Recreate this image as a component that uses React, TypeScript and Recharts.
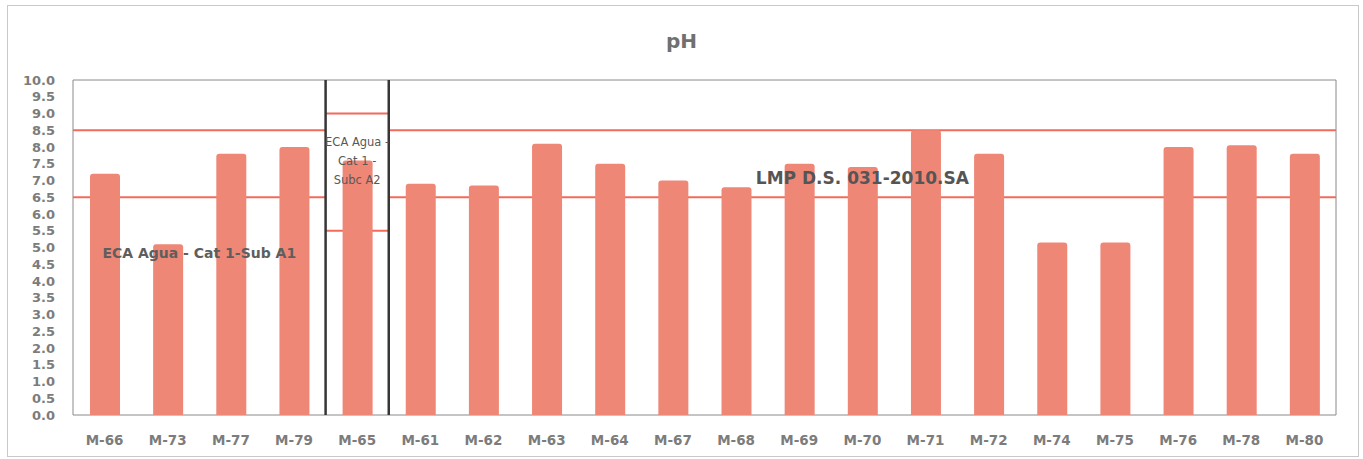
import {
  Bar,
  BarChart,
  ReferenceArea,
  ReferenceDot,
  ReferenceLine,
  XAxis,
  YAxis,
} from 'recharts';

const stations = [
  'M-66', 'M-73', 'M-77', 'M-79', 'M-65', 'M-61', 'M-62', 'M-63', 'M-64', 'M-67',
  'M-68', 'M-69', 'M-70', 'M-71', 'M-72', 'M-74', 'M-75', 'M-76', 'M-78', 'M-80',
];
const phValues = [
  7.2, 5.1, 7.8, 8.0, 7.6, 6.9, 6.85, 8.1, 7.5, 7.0,
  6.8, 7.5, 7.4, 8.5, 7.8, 5.15, 5.15, 8.0, 8.05, 7.8,
];
const yTicks = [0, 0.5, 1, 1.5, 2, 2.5, 3, 3.5, 4, 4.5, 5, 5.5, 6, 6.5, 7, 7.5, 8, 8.5, 9, 9.5, 10];

// norm sections: first and last station of each block, with its pH limits
const sectionFirst = ['M-66', 'M-65', 'M-61'];
const sectionLast = ['M-79', 'M-65', 'M-80'];
const upperLimit = [8.5, 9.0, 8.5];
const lowerLimit = [6.5, 5.5, 6.5];
const sectionNames = ['ECA Agua - Cat 1-Sub A1', '', 'LMP D.S. 031-2010.SA'];
const a2NameLines = ['ECA Agua -', 'Cat 1 -', 'Subc A2'];

const data = stations.map((name, i) => ({ name, ph: phValues[i] }));

const FONT = '"DejaVu Sans", "Liberation Sans", sans-serif';
const LIMIT_COLOR = '#F26B5A';
const HALF = 0.03; // half thickness of the limit bands, in pH units

export default function App() {
  return (
    <div style={{ position: 'absolute', left: 0, top: 0, width: 1363, height: 459, background: '#fff' }}>
      <div
        style={{
          position: 'absolute',
          left: 7,
          top: 5,
          width: 1350,
          height: 450,
          border: '1px solid #c9c9c9',
        }}
      />
      <div
        style={{
          position: 'absolute',
          top: 29,
          left: 0,
          width: 1363,
          textAlign: 'center',
          fontFamily: FONT,
          fontWeight: 700,
          fontSize: 20,
          color: '#707070',
        }}
      >
        pH
      </div>
      <div style={{ position: 'absolute', left: 0, top: 0 }}>
        <BarChart
          width={1363}
          height={459}
          data={data}
          margin={{ top: 80, right: 27, bottom: 14, left: 0 }}
        >
          <XAxis
            dataKey="name"
            height={30}
            tickLine={false}
            axisLine={false}
            tickSize={6}
            tickMargin={14}
            interval={0}
            tick={{ fill: '#7c7c7c', fontSize: 13.5, fontWeight: 700, fontFamily: FONT }}
          />
          <YAxis
            width={73}
            domain={[0, 10]}
            ticks={yTicks}
            interval={0}
            tickLine={false}
            axisLine={false}
            tickSize={8}
            tickMargin={10}
            tickFormatter={(v: number) => v.toFixed(1)}
            tick={{ fill: '#7c7c7c', fontSize: 13, fontWeight: 700, fontFamily: FONT }}
          />
          <Bar
            dataKey="ph"
            fill="#EF8777"
            barSize={30}
            radius={[3, 3, 0, 0]}
            isAnimationActive={false}
          />
          <ReferenceArea y1={0} y2={10} fill="none" stroke="#8a8a8a" strokeWidth={1} />
          {sectionFirst.map((first, i) => (
            <ReferenceArea
              key={`u${i}`}
              x1={first}
              x2={sectionLast[i]}
              y1={upperLimit[i] - HALF}
              y2={upperLimit[i] + HALF}
              fill={LIMIT_COLOR}
              fillOpacity={1}
              stroke="none"
            />
          ))}
          {sectionFirst.map((first, i) => (
            <ReferenceArea
              key={`l${i}`}
              x1={first}
              x2={sectionLast[i]}
              y1={lowerLimit[i] - HALF}
              y2={lowerLimit[i] + HALF}
              fill={LIMIT_COLOR}
              fillOpacity={1}
              stroke="none"
            />
          ))}
          {sectionFirst.slice(1).map((first) => (
            <ReferenceLine key={`s${first}`} x={first} position="start" stroke="#363636" strokeWidth={2.5} />
          ))}
          <ReferenceArea
            x1={sectionFirst[0]}
            x2={sectionLast[0]}
            y1={4.6}
            y2={5.08}
            fill="none"
            stroke="none"
            label={{
              value: sectionNames[0],
              position: 'center',
              fill: '#5e5e5e',
              fontSize: 14,
              fontWeight: 700,
              fontFamily: FONT,
            }}
          />
          <ReferenceArea
            x1={sectionFirst[2]}
            x2={sectionLast[2]}
            y1={6.8}
            y2={7.34}
            fill="none"
            stroke="none"
            label={{
              value: sectionNames[2],
              position: 'center',
              fill: '#555555',
              fontSize: 17,
              fontWeight: 700,
              fontFamily: FONT,
            }}
          />
          {a2NameLines.map((line, i) => (
            <ReferenceDot
              key={line}
              x={sectionFirst[1]}
              y={8.16 - i * 0.575}
              r={0}
              fill="none"
              stroke="none"
              label={{ value: line, position: 'center', fill: '#585858', fontSize: 11.5, fontFamily: FONT }}
            />
          ))}
        </BarChart>
      </div>
    </div>
  );
}
